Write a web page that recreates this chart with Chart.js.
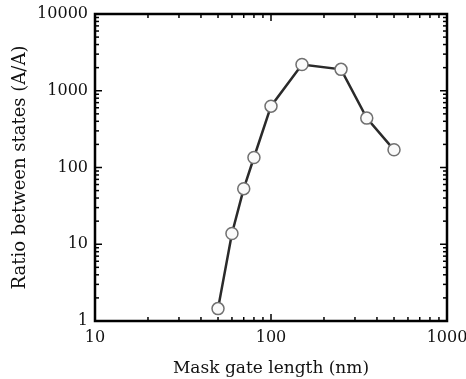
<!DOCTYPE html>
<html><head><meta charset="utf-8">
<script src="https://cdn.jsdelivr.net/npm/chart.js@4.4.1/dist/chart.umd.min.js"></script>
<style>html,body{margin:0;padding:0;background:#fff}#wrap{width:466px;height:379px}</style>
</head><body><div id="wrap"><canvas id="c" width="466" height="379"></canvas></div>
<script>
const gateLength = [50, 60, 70, 80, 100, 150, 250, 350, 500];
const ratio = [1.45, 13.8, 53, 135, 630, 2200, 1900, 440, 170];
const xMajorTicks = [10, 100, 1000];
const yMajorTicks = [1, 10, 100, 1000, 10000];
const mantissas = [2, 3, 4, 5, 6, 7, 8, 9];
const xTitle = 'Mask gate length (nm)';
const yTitle = 'Ratio between states (A/A)';

const FONT = "'DejaVu Serif', serif";

function minorOf(majors) {
  const out = [];
  for (let i = 0; i < majors.length - 1; i++) mantissas.forEach(m => out.push(majors[i] * m));
  return out;
}

const tickPlugin = {
  id: 'inTicks',
  afterDraw(chart) {
    const {ctx, chartArea: a, scales: {x, y}} = chart;
    ctx.save();
    ctx.strokeStyle = '#000';
    ctx.lineWidth = 1.5;
    const draw = (x1, y1, x2, y2) => { ctx.beginPath(); ctx.moveTo(x1, y1); ctx.lineTo(x2, y2); ctx.stroke(); };
    const xt = [...xMajorTicks.map(v => [v, 7]), ...minorOf(xMajorTicks).map(v => [v, 4])];
    xt.forEach(([v, L]) => {
      const p = x.getPixelForValue(v);
      draw(p, a.bottom, p, a.bottom - L);
      draw(p, a.top, p, a.top + L);
    });
    const yt = [...yMajorTicks.map(v => [v, 7]), ...minorOf(yMajorTicks).map(v => [v, 4])];
    yt.forEach(([v, L]) => {
      const p = y.getPixelForValue(v);
      draw(a.left, p, a.left + L, p);
      draw(a.right, p, a.right - L, p);
    });
    ctx.lineWidth = 2.5;
    ctx.strokeRect(a.left, a.top, a.right - a.left, a.bottom - a.top);
    ctx.restore();
  }
};

new Chart(document.getElementById('c'), {
  type: 'line',
  data: {
    datasets: [{
      data: gateLength.map((g, i) => ({x: g, y: ratio[i]})),
      borderColor: '#2a2a2a',
      borderWidth: 2.5,
      pointRadius: 6,
      pointBackgroundColor: '#fafafa',
      pointBorderColor: '#707070',
      pointBorderWidth: 1.5,
      tension: 0
    }]
  },
  options: {
    responsive: false,
    animation: false,
    events: [],
    layout: {padding: {top: 14, right: 19, left: 10, bottom: 0}},
    plugins: {legend: {display: false}, tooltip: {enabled: false}},
    scales: {
      x: {
        type: 'logarithmic', min: 10, max: 1000,
        afterBuildTicks: s => { s.ticks = xMajorTicks.map(v => ({value: v})); },
        afterFit: s => { s.height = 58; s.paddingLeft = 0; s.paddingRight = 0; },
        grid: {display: false, drawTicks: false},
        border: {display: false},
        ticks: {color: '#111', font: {family: FONT, size: 16}, padding: 7, maxRotation: 0,
          callback: v => String(v)},
        title: {display: true, text: xTitle, color: '#111', font: {family: FONT, size: 17}, padding: {top: 7, bottom: 0}}
      },
      y: {
        type: 'logarithmic', min: 1, max: 10000,
        afterBuildTicks: s => { s.ticks = yMajorTicks.map(v => ({value: v})); },
        afterFit: s => { s.width = 85; s.paddingTop = 0; s.paddingBottom = 0; },
        grid: {display: false, drawTicks: false},
        border: {display: false},
        ticks: {color: '#111', font: {family: FONT, size: 16}, padding: 7,
          callback: v => String(v)},
        title: {display: true, text: yTitle, color: '#111', font: {family: FONT, size: 18}, padding: {top: 0, bottom: 4}}
      }
    }
  },
  plugins: [tickPlugin]
});
</script></body></html>
